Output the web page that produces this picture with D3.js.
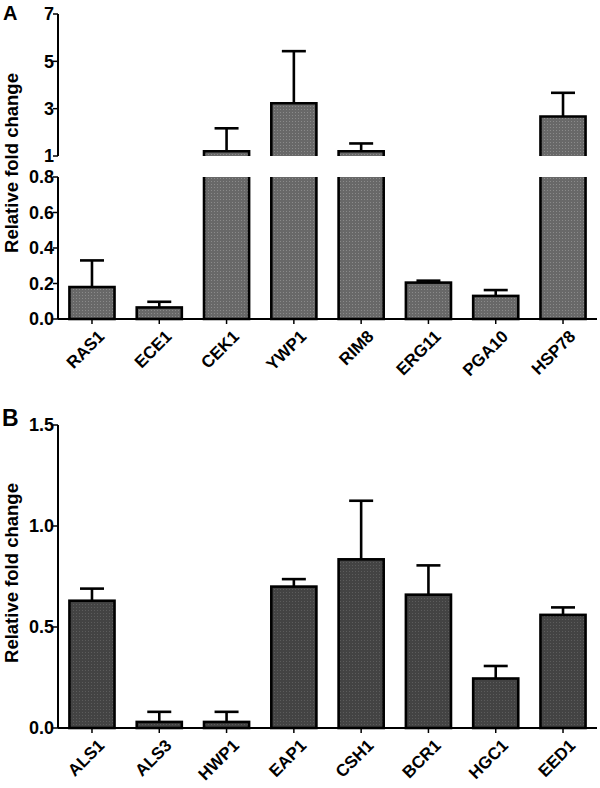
<!DOCTYPE html>
<html><head><meta charset="utf-8">
<script src="https://cdn.jsdelivr.net/npm/d3@7/dist/d3.min.js"></script>
<style>body{margin:0;background:#fff}svg{display:block}text{font-family:"Liberation Sans",Arial,sans-serif;font-weight:bold}</style>
</head><body>
<script>
const genesA = ["RAS1","ECE1","CEK1","YWP1","RIM8","ERG11","PGA10","HSP78"];
const meanA = [0.18,0.065,1.2,3.23,1.2,0.205,0.13,2.67];
const errA = [0.15,0.032,0.97,2.2,0.33,0.011,0.033,1.0];
const ticksAlow = [0,0.2,0.4,0.6,0.8];
const ticksAhigh = [1,3,5,7];
const genesB = ["ALS1","ALS3","HWP1","EAP1","CSH1","BCR1","HGC1","EED1"];
const meanB = [0.63,0.03,0.03,0.70,0.835,0.66,0.245,0.56];
const errB = [0.06,0.05,0.05,0.037,0.29,0.145,0.062,0.037];
const ticksB = [0,0.5,1.0,1.5];

const W=600,H=788;
const svg=d3.select("body").append("svg").attr("width",W).attr("height",H);
const defs=svg.append("defs");
function pat(id,base,dot){
  const p=defs.append("pattern").attr("id",id).attr("width",3).attr("height",3).attr("patternUnits","userSpaceOnUse");
  p.append("rect").attr("width",3).attr("height",3).attr("fill",base);
  p.append("rect").attr("x",1).attr("y",1).attr("width",1).attr("height",1).attr("fill",dot);
}
pat("pA","#686868","#8a8a8a");
pat("pB","#434343","#5c5c5c");

const X0=58,X1=597;
const SW=2.6;

function xAxis(g,x,y0,genes){
  g.append("line").attr("x1",X0).attr("x2",X1).attr("y1",y0).attr("y2",y0).attr("stroke","#000").attr("stroke-width",2);
  genes.forEach(gn=>{
    const cx=x(gn)+x.bandwidth()/2;
    g.append("line").attr("x1",cx).attr("x2",cx).attr("y1",y0).attr("y2",y0+5).attr("stroke","#000").attr("stroke-width",1.5);
    g.append("text").attr("transform",`translate(${cx+5},${y0+10}) rotate(-45)`)
      .attr("text-anchor","end").attr("dy","0.71em").attr("font-size",17).text(gn);
  });
}
function yAxis(g,y,ticks,fmt){
  const r=y.range();
  g.append("line").attr("x1",X0).attr("x2",X0).attr("y1",r[0]).attr("y2",r[1]).attr("stroke","#000").attr("stroke-width",2);
  ticks.forEach(t=>{
    g.append("line").attr("x1",X0-5).attr("x2",X0).attr("y1",y(t)).attr("y2",y(t)).attr("stroke","#000").attr("stroke-width",1.5);
    g.append("text").attr("x",X0-4).attr("y",y(t)).attr("dy","0.36em").attr("text-anchor","end").attr("font-size",18).text(fmt(t));
  });
}
function errBar(g,cx,yTop,yErr){
  g.append("line").attr("x1",cx).attr("x2",cx).attr("y1",yTop).attr("y2",yErr).attr("stroke","#000").attr("stroke-width",SW);
  g.append("line").attr("x1",cx-12).attr("x2",cx+12).attr("y1",yErr).attr("y2",yErr).attr("stroke","#000").attr("stroke-width",SW);
}

// Panel A
const xA=d3.scaleBand().domain(genesA).range([X0,X1]).paddingInner(0.33).paddingOuter(0.17);
const yLow=d3.scaleLinear().domain([0,0.8]).range([319,177]);
const yHigh=d3.scaleLinear().domain([1,7]).range([156,14]);
const gA=svg.append("g");
genesA.forEach((gn,i)=>{
  const x0=xA(gn),bw=xA.bandwidth(),x1=x0+bw,cx=x0+bw/2;
  const m=meanA[i],e=errA[i];
  if(m<=0.8){
    gA.append("rect").attr("x",x0).attr("y",yLow(m)).attr("width",bw).attr("height",yLow(0)-yLow(m))
      .attr("fill","url(#pA)").attr("stroke","#000").attr("stroke-width",SW);
    errBar(gA,cx,yLow(m),yLow(m+e));
  } else {
    gA.append("rect").attr("x",x0).attr("y",yLow(0.8)).attr("width",bw).attr("height",yLow(0)-yLow(0.8)).attr("fill","url(#pA)");
    gA.append("path").attr("d",`M${x0},${yLow(0.8)}V${yLow(0)}H${x1}V${yLow(0.8)}`).attr("fill","none").attr("stroke","#000").attr("stroke-width",SW);
    gA.append("rect").attr("x",x0).attr("y",yHigh(m)).attr("width",bw).attr("height",yHigh(1)-yHigh(m)).attr("fill","url(#pA)");
    gA.append("path").attr("d",`M${x0},${yHigh(1)}V${yHigh(m)}H${x1}V${yHigh(1)}`).attr("fill","none").attr("stroke","#000").attr("stroke-width",SW);
    errBar(gA,cx,yHigh(m),yHigh(m+e));
  }
});
yAxis(gA,yLow,ticksAlow,d3.format(".1f"));
yAxis(gA,yHigh,ticksAhigh,d3.format("d"));
xAxis(gA,xA,319,genesA);
gA.append("text").attr("x",3).attr("y",20).attr("font-size",20).text("A");
gA.append("text").attr("transform","translate(18,163) rotate(-90)").attr("text-anchor","middle").attr("font-size",18.5).text("Relative fold change");

// Panel B
const xB=d3.scaleBand().domain(genesB).range([X0,X1]).paddingInner(0.33).paddingOuter(0.17);
const yB=d3.scaleLinear().domain([0,1.5]).range([728,425]);
const gB=svg.append("g");
genesB.forEach((gn,i)=>{
  const x0=xB(gn),bw=xB.bandwidth(),cx=x0+bw/2;
  const m=meanB[i],e=errB[i];
  gB.append("rect").attr("x",x0).attr("y",yB(m)).attr("width",bw).attr("height",yB(0)-yB(m))
    .attr("fill","url(#pB)").attr("stroke","#000").attr("stroke-width",SW);
  errBar(gB,cx,yB(m),yB(m+e));
});
yAxis(gB,yB,ticksB,d3.format(".1f"));
xAxis(gB,xB,728,genesB);
gB.append("text").attr("x",2).attr("y",426).attr("font-size",23).text("B");
gB.append("text").attr("transform","translate(18,573) rotate(-90)").attr("text-anchor","middle").attr("font-size",18.5).text("Relative fold change");
</script>
</body></html>
